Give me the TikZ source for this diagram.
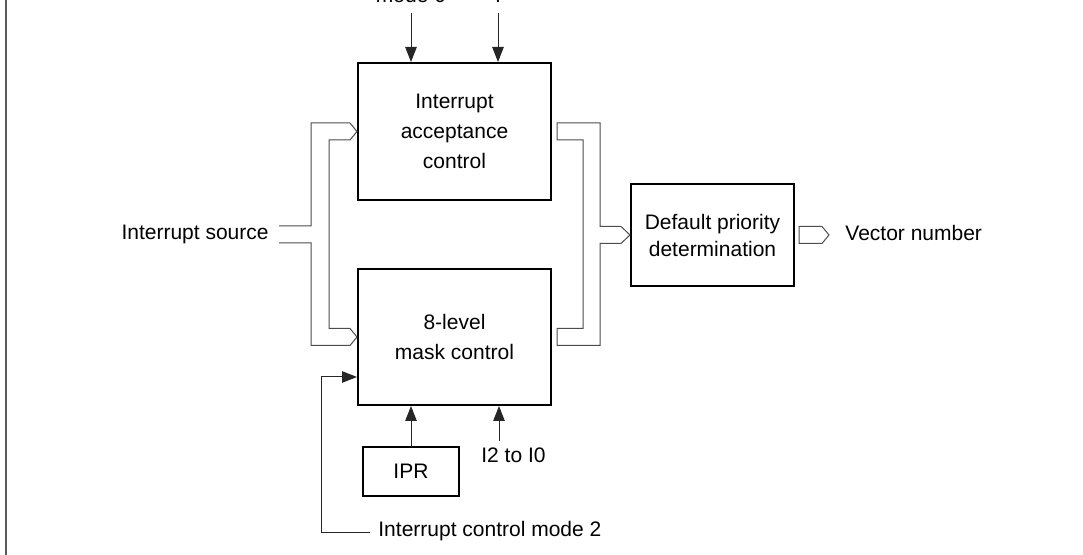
\documentclass[tikz,border=0pt]{standalone}
\usepackage{fontspec}
\setmainfont{Liberation Sans}
\usetikzlibrary{arrows.meta,calc}
\begin{document}
\begin{tikzpicture}[x=0.5pt, y=-0.5pt, >={Triangle[length=7.5pt,width=5.75pt]},
        font=\fontsize{10.5}{15}\selectfont,
        blockbox/.style={draw, line width=1pt, align=center, inner sep=0pt},
        bus/.style={draw=black!70, line width=0.5pt, line join=miter},
        sig/.style={->, black!85, line width=0.5pt},
        lbl/.style={inner sep=0pt}]
        \useasboundingbox (0,0) rectangle (1083,555);
        \clip (0,0) rectangle (1083,555);

        % -- Bord gauche --
        \draw[black!65, line width=1pt] (5.5,0) -- (5.5,555);

        % -- Blocs principaux --
        \node[blockbox, minimum width=96.5pt, minimum height=68.5pt] (acc) at (454.5,131.5) {Interrupt\\acceptance\\control};
        \node[blockbox, minimum width=96.5pt, minimum height=68pt] (mask) at (454.5,337) {8-level\\mask control};
        \node[blockbox, minimum width=81.5pt, minimum height=51pt, font=\fontsize{10.5}{13.5}\selectfont] (prio) at (712.5,235) {Default priority\\determination};
        \node[blockbox, line width=0.8pt, minimum width=48pt, minimum height=24.5pt] (ipr) at (411,471.5) {IPR};

        % -- Entrees du haut (coupees par le cadre) --
        \node[lbl, anchor=base] (m0) at (411,3) {mode 0};
        \node[lbl, anchor=base] (m1) at (498,3) {I};
        \draw[sig] ([yshift=-5pt]m0.base) -- (m0.base |- acc.north);
        \draw[sig] ([yshift=-5pt]m1.base) -- (m1.base |- acc.north);

        % -- Source d'interruption (bus a gauche) --
        \node[lbl, anchor=base east] (src) at (269,239.5) {Interrupt source};
        \draw[bus] (279,226) -- (311,226) -- (311,123) -- (350,123) -- (acc.west) -- (350,140)
            -- (329,140) -- (329,328.5) -- (350,328.5) -- (mask.west) -- (350,345.5)
            -- (311,345.5) -- (311,243) -- (279,243);

        % -- Bus vers la priorite par defaut --
        \draw[bus] (557,123) -- (600,123) -- (600,226.5) -- (621,226.5) -- (prio.west)
            -- (621,243.5) -- (600,243.5) -- (600,345.5) -- (557,345.5) -- (557,328.5)
            -- (583,328.5) -- (583,140) -- (557,140) -- cycle;

        % -- Sortie --
        \draw[bus] (799,226.5) -- (822,226.5) -- (829,235) -- (822,243.5) -- (799,243.5) -- cycle;
        \node[lbl, anchor=west] (vec) at (845,233) {Vector number};

        % -- Entrees du bas --
        \draw[sig] (ipr) -- (ipr |- mask.south);
        \node[lbl, anchor=base] (i20) at (513.5,463) {I2 to I0};
        \coordinate (i2in) at (499,441);
        \draw[sig] (i2in) -- (i2in |- mask.south);

        % -- Mode de controle 2 (retour) --
        \node[lbl, anchor=base west] (mode2) at (378,537) {Interrupt control mode 2};
        \coordinate (fbstart) at (370,533);
        \coordinate (fbturn) at (321,377);
        \draw[sig] (fbstart) -| (fbturn) -- (fbturn -| mask.west);
    \end{tikzpicture}
\end{document}
